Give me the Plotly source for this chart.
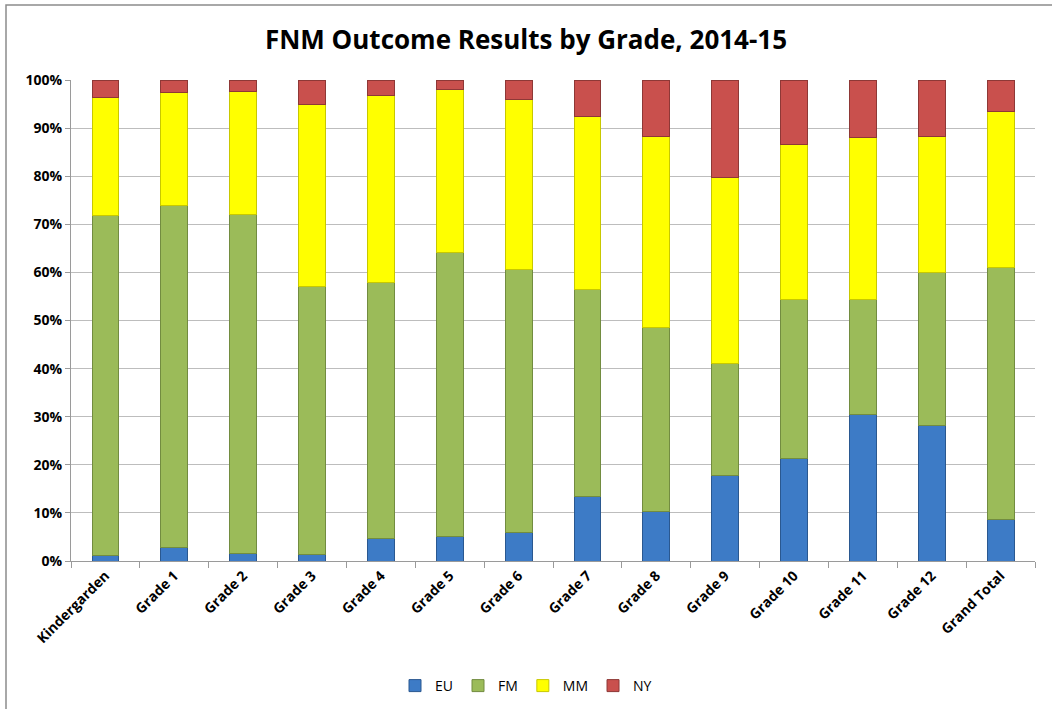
import plotly.graph_objects as go

categories = ["Kindergarden", "Grade 1", "Grade 2", "Grade 3", "Grade 4", "Grade 5",
              "Grade 6", "Grade 7", "Grade 8", "Grade 9", "Grade 10", "Grade 11",
              "Grade 12", "Grand Total"]
eu = [1.1, 2.9, 1.6, 1.4, 4.6, 5.0, 5.9, 13.5, 10.3, 17.7, 21.4, 30.4, 28.1, 8.7]
fm = [70.8, 71.1, 70.5, 55.6, 53.3, 59.2, 54.7, 43.0, 38.2, 23.3, 32.9, 23.9, 31.8, 52.3]
mm = [24.4, 23.5, 25.6, 38.0, 38.9, 33.9, 35.4, 36.0, 39.7, 38.8, 32.3, 33.8, 28.3, 32.4]
ny = [3.7, 2.5, 2.3, 5.0, 3.2, 1.9, 4.0, 7.5, 11.8, 20.2, 13.4, 11.9, 11.8, 6.6]

series = [
    ("EU", eu, "#3D7BC6", "#2A5890"),
    ("FM", fm, "#9BBB59", "#728C40"),
    ("MM", mm, "#FFFF00", "#C8C800"),
    ("NY", ny, "#C9504D", "#8E3836"),
]

fig = go.Figure()
for name, vals, col, edge in series:
    fig.add_trace(go.Bar(
        name=name, x=categories, y=vals,
        marker=dict(color=col, line=dict(color=edge, width=1)),
    ))

font_family = "Open Sans, Noto Sans, sans-serif"

fig.update_layout(
    barmode="stack",
    barnorm="percent",
    bargap=0.61,
    width=1052, height=709,
    autosize=False,
    margin=dict(l=71, r=17, t=80, b=148, autoexpand=False),
    paper_bgcolor="white",
    plot_bgcolor="white",
    font=dict(family=font_family, color="#000000"),
    title=dict(
        text="<b>FNM Outcome Results by Grade, 2014-15</b>",
        font=dict(size=26, family=font_family, color="#000000"),
        x=0.5, xref="container", xanchor="center",
        y=1 - 40 / 709, yref="container", yanchor="middle",
    ),
    legend=dict(
        orientation="h",
        x=0.5, xref="container", xanchor="center",
        y=1 - 686 / 709, yref="container", yanchor="middle",
        font=dict(size=14, family=font_family),
        itemwidth=30,
        traceorder="normal",
    ),
    showlegend=True,
)

fig.update_yaxes(
    range=[0, 100],
    tickmode="array",
    tickvals=[0, 10, 20, 30, 40, 50, 60, 70, 80, 90, 100],
    ticktext=["<b>%d%%</b>" % v for v in range(0, 101, 10)],
    showgrid=True, gridcolor="#BDBDBD", gridwidth=1,
    showline=True, linecolor="#9A9A9A", linewidth=1,
    ticks="outside", ticklen=5, tickcolor="#9A9A9A",
    tickfont=dict(size=14, family=font_family),
    zeroline=False, automargin=False,
    fixedrange=True,
)
fig.update_xaxes(
    tickmode="array",
    tickvals=categories,
    ticktext=["<b>%s</b>" % c for c in categories],
    tickangle=-45,
    showline=True, linecolor="#9A9A9A", linewidth=1,
    ticks="outside", ticklen=6, tickcolor="#9A9A9A",
    tickson="boundaries",
    tickfont=dict(size=14, family=font_family),
    showgrid=False, automargin=False,
    fixedrange=True,
)

# chart frame (partially outside the visible window, as in reference)
fig.add_shape(
    type="rect", xref="paper", yref="paper",
    x0=(6 - 71) / 964, x1=(1300 - 71) / 964,
    y0=(561 - 800) / 481, y1=(561 - 5) / 481,
    line=dict(color="#8C8C8C", width=1.5),
    fillcolor="rgba(0,0,0,0)", layer="below",
)

fig.write_html(
    "out.html",
    config={"displayModeBar": False},
    post_script="document.body.style.margin='0';document.body.style.overflow='hidden';",
)
